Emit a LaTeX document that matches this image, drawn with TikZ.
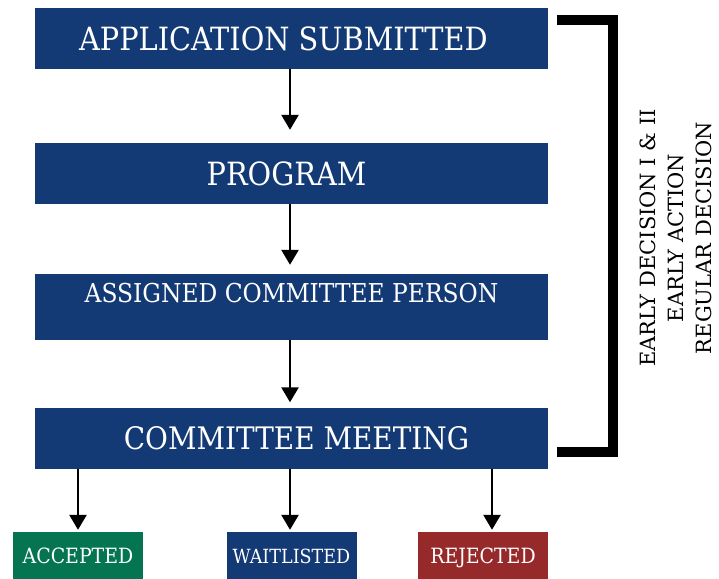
\documentclass[tikz,border=0pt]{standalone}
\usepackage{fontspec}
\setmainfont{DejaVu Serif Condensed}
\newfontfamily\sidefont{DejaVu Serif}
\usetikzlibrary{arrows.meta}
\definecolor{navy}{RGB}{19,58,117}
\definecolor{admitgreen}{RGB}{4,117,80}
\definecolor{denyred}{RGB}{150,42,43}
\begin{document}
\begin{tikzpicture}[x=1pt,y=-1pt,
  stagebox/.style={fill=navy, text=white, inner sep=0pt,
    minimum width=513pt, minimum height=61pt, font=\fontsize{32}{32}\selectfont},
  outcome/.style={text=white, inner sep=0pt, text height=15pt, text depth=0pt,
    minimum width=130pt, minimum height=48pt, font=\fontsize{21}{21}\selectfont},
  flow/.style={line width=2.6pt, -{Triangle[width=17pt,length=15pt]}},
  bracket/.style={line width=10pt, line join=miter}]
\useasboundingbox (0,0) rectangle (719,578);

% main stages
\node[stagebox] (submit) at (291.5,38.5) {\hspace*{-16pt}APPLICATION SUBMITTED};
\node[stagebox] (program) at (291.5,173.5) {\hspace*{-10pt}PROGRAM};
\node[stagebox, minimum height=66pt, text height=19pt, text depth=29pt,
      inner ysep=9pt, font=\fontsize{26}{26}\selectfont] (person) at (291.5,307) {ASSIGNED COMMITTEE PERSON};
\node[stagebox, font=\fontsize{31}{31}\selectfont] (meeting) at (291.5,438) {COMMITTEE MEETING\hspace*{-10pt}};

% outcomes
\node[outcome, fill=admitgreen] (accepted) at (78,556) {ACCEPTED};
\node[outcome, fill=navy, text height=14pt, font=\fontsize{19.5}{19.5}\selectfont] (waitlisted) at (291.5,556) {WAITLISTED};
\node[outcome, fill=denyred] (rejected) at (483,556) {REJECTED};

% connectors
\draw[flow, shorten >=13pt] (submit.south -| 290,0) -- (program.north -| 290,0);
\draw[flow, shorten >=9pt] (program.south -| 290,0) -- (person.north -| 290,0);
\draw[flow, shorten >=5pt] (person.south -| 290,0) -- (meeting.north -| 290,0);
\draw[flow, shorten >=2pt] (meeting.south -| accepted.north) -- (accepted.north);
\draw[flow, shorten >=2pt] (meeting.south -| 290,0) -- (waitlisted.north -| 290,0);
\draw[flow, shorten >=2pt] (meeting.south -| 492,0) -- (rejected.north -| 492,0);

% bracket spanning all decision rounds
\coordinate (btop) at (557,20);
\coordinate (bcorner1) at (613,20);
\coordinate (bcorner2) at (613,452);
\coordinate (bbottom) at (557,452);
\draw[bracket] (btop) -- (bcorner1) -- (bcorner2) -- (bbottom);

\node[rotate=90, align=center, inner sep=0pt,
      font=\sidefont\fontsize{21}{28}\selectfont] (rounds) at (676,238)
  {EARLY DECISION I \& II\\EARLY ACTION\\REGULAR DECISION};
\end{tikzpicture}
\end{document}
